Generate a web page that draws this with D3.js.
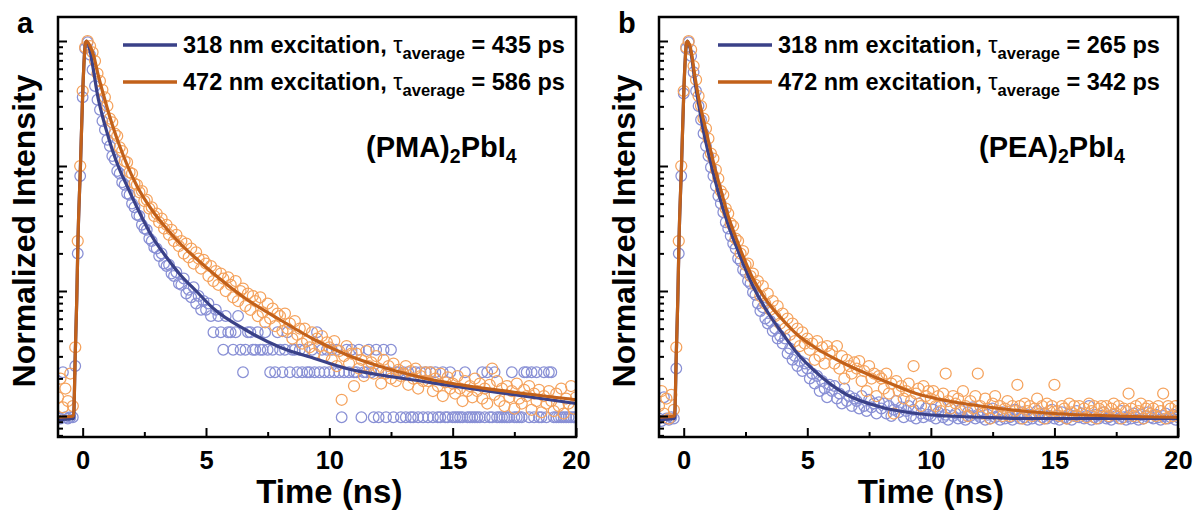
<!DOCTYPE html>
<html><head><meta charset="utf-8">
<script src="https://cdn.jsdelivr.net/npm/d3@7"></script>
<style>html,body{margin:0;padding:0;background:#fff;} svg{display:block;font-family:Arial,"Liberation Sans",sans-serif;}</style>
</head><body><svg id="chart" width="1196" height="512"></svg>
<script>
// ---------- DATA ----------
// measurement time grid (ns)
const timeNs = [
 -1.0,-0.9,-0.8,-0.7,-0.6,-0.5,-0.4,-0.3,-0.2,-0.1,
 0.0,0.1,0.2,0.3,0.4,0.5,0.6,0.7,0.8,0.9,
 1.0,1.1,1.2,1.3,1.4,1.5,1.6,1.7,1.8,1.9,
 2.0,2.1,2.2,2.3,2.4,2.5,2.6,2.7,2.8,2.9,
 3.0,3.1,3.2,3.3,3.4,3.5,3.6,3.7,3.8,3.9,
 4.0,4.1,4.2,4.3,4.4,4.5,4.6,4.7,4.8,4.9,
 5.0,5.1,5.2,5.3,5.4,5.5,5.6,5.7,5.8,5.9,
 6.0,6.1,6.2,6.3,6.4,6.5,6.6,6.7,6.8,6.9,
 7.0,7.1,7.2,7.3,7.4,7.5,7.6,7.7,7.8,7.9,
 8.0,8.1,8.2,8.3,8.4,8.5,8.6,8.7,8.8,8.9,
 9.0,9.1,9.2,9.3,9.4,9.5,9.6,9.7,9.8,9.9,
 10.0,10.1,10.2,10.3,10.4,10.5,10.6,10.7,10.8,10.9,
 11.0,11.1,11.2,11.3,11.4,11.5,11.6,11.7,11.8,11.9,
 12.0,12.1,12.2,12.3,12.4,12.5,12.6,12.7,12.8,12.9,
 13.0,13.1,13.2,13.3,13.4,13.5,13.6,13.7,13.8,13.9,
 14.0,14.1,14.2,14.3,14.4,14.5,14.6,14.7,14.8,14.9,
 15.0,15.1,15.2,15.3,15.4,15.5,15.6,15.7,15.8,15.9,
 16.0,16.1,16.2,16.3,16.4,16.5,16.6,16.7,16.8,16.9,
 17.0,17.1,17.2,17.3,17.4,17.5,17.6,17.7,17.8,17.9,
 18.0,18.1,18.2,18.3,18.4,18.5,18.6,18.7,18.8,18.9,
 19.0,19.1,19.2,19.3,19.4,19.5,19.6,19.7,19.8,19.9,
 20.0];

// log10(normalized intensity), (PMA)2PbI4, 318 nm excitation
const pmaBlueLog = [
 -3.01,-3.02,-2.65,-3.01,-3.02,-3.01,-3.01,-2.60,-1.70,-1.08,
 -0.45,-0.06,-0.01,-0.11,-0.23,-0.36,-0.47,-0.55,-0.64,-0.71,
 -0.79,-0.84,-0.92,-0.95,-1.04,-1.06,-1.13,-1.15,-1.22,-1.23,
 -1.30,-1.33,-1.39,-1.40,-1.47,-1.50,-1.51,-1.58,-1.60,-1.65,
 -1.66,-1.72,-1.70,-1.78,-1.80,-1.79,-1.86,-1.88,-1.85,-1.94,
 -1.95,-1.90,-2.02,-1.99,-2.05,-1.97,-2.10,-2.04,-2.15,-2.08,
 -2.15,-2.10,-2.20,-2.33,-2.15,-2.20,-2.33,-2.47,-2.20,-2.33,
 -2.33,-2.47,-2.33,-2.20,-2.47,-2.65,-2.47,-2.33,-2.33,-2.47,
 -2.47,-2.33,-2.47,-2.47,-2.33,-2.47,-2.65,-2.47,-2.65,-2.33,
 -2.47,-2.65,-2.47,-2.33,-2.65,-2.47,-2.47,-2.65,-2.47,-2.65,
 -2.47,-2.65,-2.65,-2.47,-2.65,-2.33,-2.65,-2.47,-2.65,-2.47,
 -2.65,-2.47,-2.65,-2.47,-2.65,-3.01,-2.65,-2.47,-2.65,-2.47,
 -2.65,-2.65,-2.47,-3.01,-2.65,-2.65,-2.47,-2.65,-3.01,-2.47,
 -3.01,-2.65,-2.47,-3.01,-2.65,-2.47,-3.01,-2.65,-2.65,-3.01,
 -2.65,-3.01,-2.65,-3.01,-3.01,-2.65,-3.01,-2.65,-3.01,-2.65,
 -3.01,-2.65,-3.01,-2.65,-3.01,-3.01,-2.65,-3.01,-3.01,-2.65,
 -3.01,-3.01,-3.01,-3.01,-3.01,-2.65,-3.01,-3.01,-3.01,-3.01,
 -3.01,-3.01,-2.65,-3.01,-2.65,-3.01,-3.01,-2.65,-3.01,-3.01,
 -3.01,-3.01,-3.01,-3.01,-2.65,-3.01,-3.01,-3.01,-3.01,-2.65,
 -2.65,-3.01,-2.65,-3.01,-2.65,-3.01,-3.01,-2.65,-3.01,-2.65,
 -2.65,-3.01,-3.01,-3.01,-3.01,-3.01,-3.01,-3.01,-3.01,-3.01,
 -3.01];

// (PMA)2PbI4, 472 nm excitation
const pmaOrangeLog = [
 -2.85,-2.70,-2.93,-2.78,-2.88,-2.66,-2.92,-2.45,-1.60,-1.00,
 -0.40,-0.05,0.00,-0.04,-0.09,-0.16,-0.26,-0.32,-0.39,-0.45,
 -0.52,-0.62,-0.65,-0.74,-0.76,-0.85,-0.88,-0.96,-0.97,-1.05,
 -1.06,-1.14,-1.15,-1.21,-1.20,-1.28,-1.27,-1.34,-1.33,-1.40,
 -1.38,-1.45,-1.42,-1.50,-1.47,-1.55,-1.51,-1.60,-1.55,-1.64,
 -1.60,-1.70,-1.62,-1.73,-1.66,-1.78,-1.69,-1.74,-1.82,-1.75,
 -1.78,-1.88,-1.80,-1.92,-1.84,-1.95,-1.86,-1.90,-2.00,-1.89,
 -1.95,-2.05,-1.92,-2.08,-2.00,-1.98,-2.12,-2.02,-2.15,-2.04,
 -2.08,-2.20,-2.05,-2.17,-2.25,-2.10,-2.22,-2.14,-2.28,-2.18,
 -2.20,-2.32,-2.18,-2.30,-2.26,-2.38,-2.24,-2.35,-2.30,-2.42,
 -2.30,-2.40,-2.45,-2.33,-2.50,-2.38,-2.44,-2.36,-2.52,-2.41,
 -2.45,-2.55,-2.40,-2.60,-2.48,-2.87,-2.52,-2.44,-2.58,-2.50,
 -2.76,-2.50,-2.62,-2.55,-2.68,-2.48,-2.60,-2.57,-2.66,-2.52,
 -2.62,-2.74,-2.55,-2.66,-2.60,-2.70,-2.58,-2.72,-2.63,-2.68,
 -2.66,-2.60,-2.75,-2.64,-2.70,-2.62,-2.78,-2.68,-2.72,-2.65,
 -2.72,-2.65,-2.80,-2.70,-2.76,-2.66,-2.84,-2.73,-2.69,-2.78,
 -2.74,-2.82,-2.68,-2.78,-2.88,-2.72,-2.80,-2.76,-2.85,-2.70,
 -2.80,-2.74,-2.86,-2.78,-2.90,-2.75,-2.62,-2.83,-2.72,-2.88,
 -2.78,-2.92,-2.76,-2.85,-2.80,-2.94,-2.74,-2.86,-2.90,-2.79,
 -2.84,-2.76,-2.95,-2.82,-2.88,-2.79,-2.97,-2.84,-2.90,-2.80,
 -2.88,-2.96,-2.82,-2.92,-2.78,-2.98,-2.86,-2.90,-2.76,-2.94,
 -2.85];

// (PEA)2PbI4, 318 nm excitation
const peaBlueLog = [
 -3.02,-3.04,-2.85,-3.02,-3.03,-3.01,-3.02,-2.62,-1.70,-1.08,
 -0.42,-0.06,-0.01,-0.12,-0.25,-0.40,-0.52,-0.63,-0.74,-0.84,
 -0.92,-1.01,-1.08,-1.16,-1.24,-1.30,-1.37,-1.45,-1.50,-1.56,
 -1.62,-1.66,-1.74,-1.76,-1.83,-1.85,-1.92,-1.94,-2.01,-2.03,
 -2.10,-2.16,-2.13,-2.22,-2.26,-2.24,-2.32,-2.30,-2.38,-2.36,
 -2.42,-2.38,-2.50,-2.46,-2.55,-2.52,-2.60,-2.56,-2.64,-2.58,
 -2.62,-2.70,-2.66,-2.74,-2.68,-2.80,-2.72,-2.78,-2.85,-2.75,
 -2.80,-2.76,-2.86,-2.82,-2.90,-2.78,-2.88,-2.84,-2.92,-2.86,
 -2.88,-2.94,-2.84,-2.92,-2.96,-2.87,-2.93,-2.90,-2.98,-2.89,
 -2.94,-2.90,-2.98,-2.92,-3.00,-2.95,-2.88,-2.97,-2.93,-3.01,
 -2.96,-2.92,-3.00,-2.95,-3.02,-2.90,-2.98,-3.01,-2.94,-2.99,
 -3.00,-2.95,-3.02,-2.97,-2.92,-3.01,-2.99,-3.03,-2.94,-3.00,
 -2.98,-3.02,-2.95,-3.01,-3.03,-2.97,-3.00,-2.93,-3.02,-2.99,
 -3.01,-2.96,-3.03,-2.99,-3.02,-2.94,-3.01,-3.00,-3.03,-2.97,
 -3.02,-2.98,-3.01,-3.03,-2.95,-3.00,-3.02,-2.97,-3.01,-3.03,
 -2.99,-3.02,-3.00,-2.96,-3.03,-3.01,-2.98,-3.02,-3.00,-2.95,
 -3.02,-3.00,-3.03,-2.97,-3.01,-3.02,-2.99,-3.03,-3.00,-2.96,
 -3.01,-2.98,-3.02,-3.00,-2.92,-3.03,-3.01,-2.99,-3.02,-3.00,
 -2.97,-3.02,-3.01,-3.03,-2.99,-3.00,-3.02,-2.96,-3.01,-3.03,
 -3.00,-3.02,-2.98,-3.01,-3.03,-2.99,-3.02,-3.00,-2.97,-3.01,
 -3.02,-2.99,-3.01,-3.03,-3.00,-2.98,-3.02,-3.01,-2.99,-3.03,
 -3.01];

// (PEA)2PbI4, 472 nm excitation
const peaOrangeLog = [
 -2.92,-2.80,-2.98,-2.86,-3.02,-2.83,-2.95,-2.45,-1.60,-1.00,
 -0.40,-0.05,0.00,-0.07,-0.20,-0.31,-0.44,-0.52,-0.62,-0.70,
 -0.78,-0.90,-0.94,-1.03,-1.10,-1.20,-1.23,-1.34,-1.38,-1.46,
 -1.48,-1.58,-1.60,-1.70,-1.68,-1.79,-1.78,-1.88,-1.86,-1.95,
 -1.92,-2.04,-1.96,-2.10,-2.02,-2.15,-2.08,-2.20,-2.12,-2.26,
 -2.18,-2.30,-2.22,-2.35,-2.26,-2.40,-2.30,-2.44,-2.33,-2.42,
 -2.38,-2.47,-2.42,-2.55,-2.40,-2.52,-2.45,-2.58,-2.44,-2.50,
 -2.48,-2.58,-2.44,-2.62,-2.52,-2.70,-2.55,-2.60,-2.66,-2.57,
 -2.62,-2.56,-2.72,-2.64,-2.80,-2.60,-2.70,-2.66,-2.84,-2.68,
 -2.70,-2.78,-2.66,-2.82,-2.74,-2.98,-2.72,-2.80,-2.76,-2.86,
 -2.80,-2.74,-2.88,-2.60,-2.82,-2.78,-2.92,-2.76,-2.84,-2.80,
 -2.86,-2.80,-2.92,-2.84,-2.96,-2.82,-2.66,-2.88,-2.94,-2.84,
 -2.90,-2.86,-2.96,-2.80,-2.92,-3.00,-2.88,-2.94,-2.84,-2.66,
 -2.92,-2.98,-2.86,-2.94,-3.02,-2.90,-2.84,-2.96,-2.92,-3.00,
 -2.94,-2.88,-3.00,-2.92,-2.96,-2.75,-2.92,-3.02,-2.90,-2.96,
 -2.92,-3.00,-2.94,-2.86,-2.98,-2.92,-3.02,-2.90,-2.96,-2.92,
 -2.75,-2.96,-3.00,-2.92,-2.94,-3.02,-2.90,-2.97,-2.92,-3.00,
 -2.92,-2.98,-2.94,-3.01,-2.90,-2.96,-2.92,-3.02,-2.94,-2.92,
 -2.97,-2.92,-3.00,-2.94,-2.90,-2.98,-2.92,-3.02,-2.94,-2.96,
 -2.82,-2.94,-3.00,-2.92,-2.96,-2.90,-3.02,-2.94,-2.92,-2.98,
 -2.94,-3.00,-2.92,-2.96,-2.82,-3.02,-2.92,-2.94,-3.00,-2.92,
 -2.96];

// fitted decay curves (log10 intensity) on their own time grid
const fitTimeNs = [-1,-0.37,-0.3,-0.24,-0.19,-0.09,0.01,0.1,0.15,0.3,0.45,0.6,0.8,1.0,1.2,1.5,1.8,2.2,2.8,3.4,4.0,4.6,5.3,6.6,8,9.4,10.7,12,13.7,15,17.5,20];
const pmaFitBlueLog   = [-3.03,-3.02,-2.50,-2.07,-1.60,-1.00,-0.37,-0.04,0,-0.08,-0.25,-0.43,-0.60,-0.74,-0.87,-1.03,-1.16,-1.33,-1.56,-1.73,-1.88,-2.00,-2.14,-2.31,-2.45,-2.54,-2.62,-2.67,-2.72,-2.76,-2.83,-2.90];
const pmaFitOrangeLog = [-3.01,-3.00,-2.50,-2.07,-1.59,-1.00,-0.37,-0.04,0,-0.04,-0.12,-0.25,-0.40,-0.54,-0.67,-0.84,-0.99,-1.16,-1.35,-1.50,-1.63,-1.74,-1.86,-2.06,-2.23,-2.39,-2.51,-2.60,-2.69,-2.74,-2.81,-2.87];
const peaFitBlueLog   = [-3.03,-3.02,-2.50,-2.07,-1.60,-1.00,-0.37,-0.04,0,-0.10,-0.32,-0.50,-0.72,-0.90,-1.06,-1.28,-1.47,-1.68,-1.96,-2.17,-2.34,-2.50,-2.64,-2.83,-2.93,-2.98,-3.00,-3.01,-3.02,-3.02,-3.02,-3.02];
const peaFitOrangeLog = [-3.01,-3.00,-2.50,-2.07,-1.59,-1.00,-0.37,-0.04,0,-0.08,-0.28,-0.45,-0.63,-0.80,-0.97,-1.19,-1.40,-1.62,-1.90,-2.09,-2.23,-2.35,-2.45,-2.59,-2.71,-2.82,-2.88,-2.92,-2.96,-2.98,-3.00,-3.01];

const xMajorTicks = [0, 5, 10, 15, 20];
const xMinorTicks = [2.5, 7.5, 12.5, 17.5];
const yMajorTicks = [1, 0.1, 0.01, 0.001];
const excitationNm = ['318', '472'];
const pmaTauPs = ['435', '586'];
const peaTauPs = ['265', '342'];
const panelLetters = ['a', 'b'];
const compoundNames = ['PMA', 'PEA'];

// ---------- DRAWING ----------
const blueDot = '#8990d5', orangeDot = '#f5a25c';
const blueLine = '#3a4188', orangeLine = '#c2611a';
const svg = d3.select('#chart');
const plotTop = 17, plotBottom = 437;
const yDomain = [Math.pow(10, -3.168), Math.pow(10, 0.192)];

const panels = [
  {left: 58, right: 576, blue: pmaBlueLog, orange: pmaOrangeLog, fitBlue: pmaFitBlueLog, fitOrange: pmaFitOrangeLog, tau: pmaTauPs, name: compoundNames[0], letter: panelLetters[0], ylabX: 35, letterX: 17, legendX: 123, compX: 366},
  {left: 659, right: 1178, blue: peaBlueLog, orange: peaOrangeLog, fitBlue: peaFitBlueLog, fitOrange: peaFitOrangeLog, tau: peaTauPs, name: compoundNames[1], letter: panelLetters[1], ylabX: 635, letterX: 618, legendX: 718, compX: 979}
];

panels.forEach((p, pi) => {
  const g = svg.append('g');
  const x = d3.scaleLinear().domain([-1, 20]).range([p.left, p.right]);
  const y = d3.scaleLog().domain(yDomain).range([plotBottom, plotTop]);
  const clipId = 'clip' + pi;
  svg.append('clipPath').attr('id', clipId).append('rect')
    .attr('x', p.left).attr('y', plotTop).attr('width', p.right - p.left).attr('height', plotBottom - plotTop);

  const plot = g.append('g').attr('clip-path', `url(#${clipId})`);
  const pts = (arr) => timeNs.map((t, i) => [t, Math.pow(10, arr[i])]);
  plot.append('g').selectAll('circle').data(pts(p.blue)).join('circle')
    .attr('cx', d => x(d[0])).attr('cy', d => y(d[1])).attr('r', 5.3)
    .attr('fill', 'none').attr('stroke', blueDot).attr('stroke-width', 1.25);
  plot.append('g').selectAll('circle').data(pts(p.orange)).join('circle')
    .attr('cx', d => x(d[0])).attr('cy', d => y(d[1])).attr('r', 5.5)
    .attr('fill', 'none').attr('stroke', orangeDot).attr('stroke-width', 1.25);

  const line = d3.line().x(d => x(d[0])).y(d => y(d[1])).curve(d3.curveMonotoneX);
  const fitPts = (arr) => fitTimeNs.map((t, i) => [t, Math.pow(10, arr[i])]);
  plot.append('path').datum(fitPts(p.fitBlue)).attr('d', line)
    .attr('fill', 'none').attr('stroke', blueLine).attr('stroke-width', 3.2);
  plot.append('path').datum(fitPts(p.fitOrange)).attr('d', line)
    .attr('fill', 'none').attr('stroke', orangeLine).attr('stroke-width', 3.2);

  // axes
  const xa = g.append('g').attr('transform', `translate(0,${plotBottom})`)
    .call(d3.axisBottom(x).tickValues(xMajorTicks).tickSize(-9).tickSizeOuter(0).tickPadding(14).tickFormat(d3.format('d')));
  const xm = g.append('g').attr('transform', `translate(0,${plotBottom})`)
    .call(d3.axisBottom(x).tickValues(xMinorTicks).tickSize(-5).tickSizeOuter(0).tickFormat(''));
  const yMinor = [];
  [0.0001, 0.001, 0.01, 0.1, 1].forEach(dec => { for (let k = 2; k <= 9; k++) { const v = dec * k; if (v > yDomain[0] && v < yDomain[1]) yMinor.push(v); } });
  const ya = g.append('g').attr('transform', `translate(${p.left},0)`)
    .call(d3.axisLeft(y).tickValues(yMajorTicks).tickSize(-9).tickSizeOuter(0).tickFormat(''));
  const ym = g.append('g').attr('transform', `translate(${p.left},0)`)
    .call(d3.axisLeft(y).tickValues(yMinor).tickSize(-5).tickSizeOuter(0).tickFormat(''));
  [xa, xm, ya, ym].forEach(a => { a.select('.domain').remove(); a.selectAll('line').attr('stroke', '#000').attr('stroke-width', 2); });
  xa.selectAll('text').attr('font-size', 25.5).attr('font-weight', 'bold').attr('fill', '#000')
    .attr('font-family', 'Arial, "Liberation Sans", sans-serif');

  g.append('rect').attr('x', p.left).attr('y', plotTop).attr('width', p.right - p.left).attr('height', plotBottom - plotTop)
    .attr('fill', 'none').attr('stroke', '#000').attr('stroke-width', 2.5);

  // axis titles
  g.append('text').attr('x', x(10)).attr('y', 503).attr('text-anchor', 'middle')
    .attr('font-size', 33).attr('font-weight', 'bold').text('Time (ns)');
  g.append('text').attr('transform', `translate(${p.ylabX},231) rotate(-90)`).attr('text-anchor', 'middle')
    .attr('font-size', 32).attr('font-weight', 'bold').text('Normalized Intensity');
  g.append('text').attr('x', p.letterX).attr('y', 33).attr('font-size', 29).attr('font-weight', 'bold').text(p.letter);

  // legend
  [0, 1].forEach(i => {
    const ly = 45 + 37 * i;
    g.append('line').attr('x1', p.legendX).attr('x2', p.legendX + 54).attr('y1', ly).attr('y2', ly)
      .attr('stroke', i === 0 ? blueLine : orangeLine).attr('stroke-width', 3.5);
    const t = g.append('text').attr('x', p.legendX + 60).attr('y', ly + 8).attr('font-size', 23.5).attr('font-weight', 'bold');
    t.append('tspan').text(`${excitationNm[i]} nm excitation, `);
    t.append('tspan').attr('font-weight', 'normal').text('τ');
    t.append('tspan').attr('font-size', 16.5).attr('dy', 6).text('average');
    t.append('tspan').attr('dy', -6).text(` = ${p.tau[i]} ps`);
  });

  // compound label
  const c = g.append('text').attr('x', p.compX).attr('y', 157).attr('font-size', 29).attr('font-weight', 'bold');
  c.append('tspan').text(`(${p.name})`);
  c.append('tspan').attr('font-size', 19.5).attr('dy', 6).text('2');
  c.append('tspan').attr('dy', -6).text('PbI');
  c.append('tspan').attr('font-size', 19.5).attr('dy', 6).text('4');
});
</script>
</body></html>
